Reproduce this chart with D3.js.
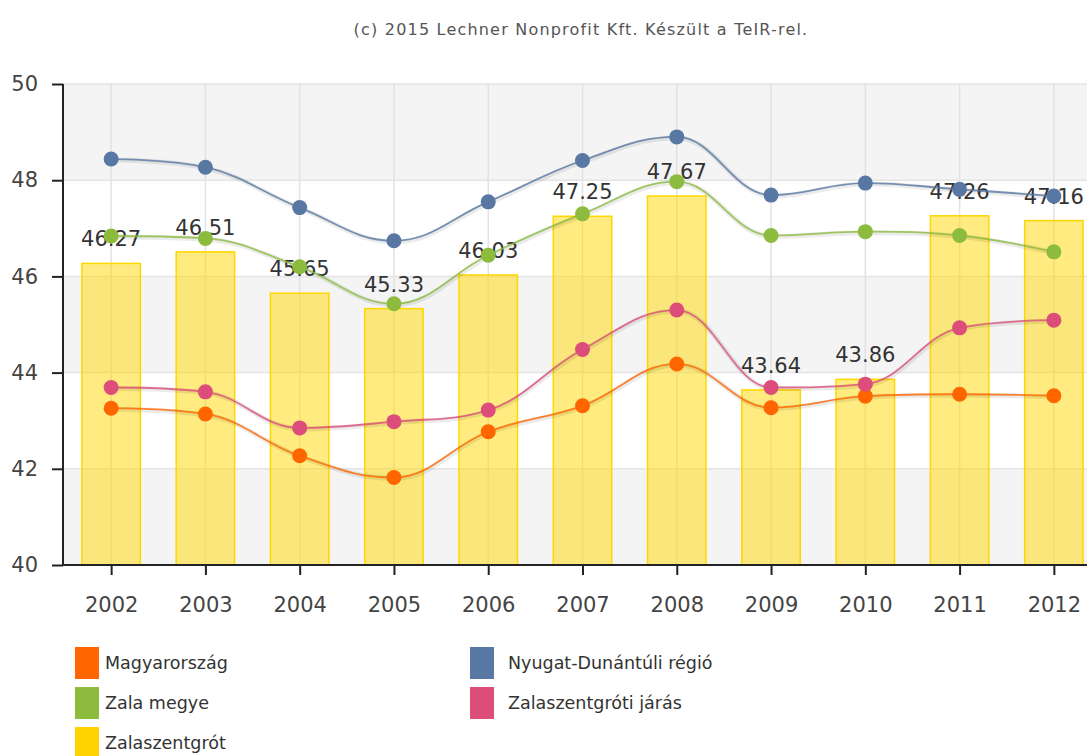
<!DOCTYPE html>
<html><head><meta charset="utf-8">
<script src="https://cdn.jsdelivr.net/npm/d3@7"></script>
<style>
body{margin:0;background:#fff;overflow:hidden}
text{font-family:"DejaVu Sans",Verdana,sans-serif}
</style>
</head><body>
<svg id="chart" width="1087" height="756"></svg>
<script>
const titleText = "(c) 2015 Lechner Nonprofit Kft. Készült a TeIR-rel.";
const years = ["2002","2003","2004","2005","2006","2007","2008","2009","2010","2011","2012"];
const magyarorszag        = [43.26, 43.14, 42.27, 41.82, 42.77, 43.31, 44.18, 43.27, 43.51, 43.55, 43.52];
const nyugatDunantuliRegio = [48.44, 48.27, 47.43, 46.74, 47.55, 48.41, 48.90, 47.69, 47.94, 47.81, 47.67];
const zalaMegye           = [46.84, 46.79, 46.20, 45.43, 46.44, 47.30, 47.97, 46.85, 46.93, 46.85, 46.51];
const zalaszentgrotiJaras = [43.69, 43.60, 42.85, 42.98, 43.22, 44.48, 45.30, 43.69, 43.76, 44.93, 45.09];
const zalaszentgrot       = [46.27, 46.51, 45.65, 45.33, 46.03, 47.25, 47.67, 43.64, 43.86, 47.26, 47.16];
const yTicks = [40, 42, 44, 46, 48, 50];
const yBands = [[40, 42], [44, 46], [48, 50]];

const lineSeries = [
  {name: "Magyarország", values: magyarorszag, color: "#ff6600"},
  {name: "Nyugat-Dunántúli régió", values: nyugatDunantuliRegio, color: "#5878a3"},
  {name: "Zala megye", values: zalaMegye, color: "#8cbb3e"},
  {name: "Zalaszentgróti járás", values: zalaszentgrotiJaras, color: "#dc4d79"}
];
const barSeries = {name: "Zalaszentgrót", values: zalaszentgrot, color: "#ffd200"};
const legendOrder = [lineSeries[0], lineSeries[1], lineSeries[2], lineSeries[3], barSeries];

const svg = d3.select("#chart");
const plotL = 63, plotR = 1087, plotT = 84, plotB = 565;

const x = d3.scalePoint().domain(years).range([64, 1101]).padding(0.5);
const step = x.step();
const barW = step * 0.62;
const y = d3.scaleLinear().domain([40, 50]).range([plotB, plotT]);

// title
svg.append("text").attr("x", 581).attr("y", 35).attr("text-anchor", "middle")
  .attr("font-size", 16).attr("letter-spacing", 1.2).attr("fill", "#555").text(titleText);

const plot = svg.append("g");
// plot bands
plot.selectAll("rect.band").data(yBands).join("rect").attr("class", "band")
  .attr("x", plotL).attr("width", plotR - plotL)
  .attr("y", d => y(d[1])).attr("height", d => y(d[0]) - y(d[1]))
  .attr("fill", "#f4f4f4");
// horizontal grid
plot.selectAll("line.hg").data(yTicks.slice(1)).join("line").attr("class", "hg")
  .attr("x1", plotL).attr("x2", plotR).attr("y1", d => y(d)).attr("y2", d => y(d))
  .attr("stroke", "#e4e4e4").attr("stroke-width", 1.5);
// vertical grid
plot.selectAll("line.vg").data(years).join("line").attr("class", "vg")
  .attr("x1", d => x(d)).attr("x2", d => x(d)).attr("y1", plotT).attr("y2", plotB)
  .attr("stroke", "#e2e2e2").attr("stroke-width", 1.5);

// bars
plot.selectAll("rect.bar").data(zalaszentgrot).join("rect").attr("class", "bar")
  .attr("x", (d, i) => x(years[i]) - barW / 2).attr("width", barW)
  .attr("y", d => y(d)).attr("height", d => y(40) - y(d))
  .attr("fill", "rgba(255,215,0,0.5)").attr("stroke", "#ffd700").attr("stroke-width", 1.5);

// bar labels
plot.selectAll("text.bl").data(zalaszentgrot).join("text").attr("class", "bl")
  .attr("x", (d, i) => x(years[i])).attr("y", d => y(d) - 17)
  .attr("text-anchor", "middle").attr("font-size", 21).attr("fill", "#333")
  .text(d => d.toFixed(2));

// Highcharts-like spline
function spline(pts) {
  const sm = 1.5, den = 2.5, n = pts.length;
  const lc = new Array(n), rc = new Array(n);
  for (let i = 1; i < n - 1; i++) {
    const [px, py] = pts[i], [lx, ly] = pts[i - 1], [nx, ny] = pts[i + 1];
    let lcx = (sm * px + lx) / den, lcy = (sm * py + ly) / den;
    let rcx = (sm * px + nx) / den, rcy = (sm * py + ny) / den;
    let corr = 0;
    if (rcx !== lcx) corr = ((rcy - lcy) * (rcx - px)) / (rcx - lcx) + py - rcy;
    lcy += corr; rcy += corr;
    if (lcy > ly && lcy > py) { lcy = Math.max(ly, py); rcy = 2 * py - lcy; }
    else if (lcy < ly && lcy < py) { lcy = Math.min(ly, py); rcy = 2 * py - lcy; }
    if (rcy > ny && rcy > py) { rcy = Math.max(ny, py); lcy = 2 * py - rcy; }
    else if (rcy < ny && rcy < py) { rcy = Math.min(ny, py); lcy = 2 * py - rcy; }
    lc[i] = [lcx, lcy]; rc[i] = [rcx, rcy];
  }
  const p = d3.path();
  p.moveTo(pts[0][0], pts[0][1]);
  for (let i = 1; i < n; i++) {
    const c1 = rc[i - 1] || pts[i - 1], c2 = lc[i] || pts[i];
    p.bezierCurveTo(c1[0], c1[1], c2[0], c2[1], pts[i][0], pts[i][1]);
  }
  return p.toString();
}

lineSeries.forEach(s => {
  const pts = s.values.map((v, i) => [x(years[i]), y(v)]);
  const d = spline(pts);
  plot.append("path").attr("d", d).attr("fill", "none")
    .attr("stroke", "rgba(0,0,0,0.08)").attr("stroke-width", 5).attr("transform", "translate(1,1)");
  plot.append("path").attr("d", d).attr("fill", "none")
    .attr("stroke", s.color).attr("stroke-opacity", 0.8).attr("stroke-width", 1.8);
});
lineSeries.forEach(s => {
  plot.selectAll(null).data(s.values).join("circle")
    .attr("cx", (d, i) => x(years[i])).attr("cy", d => y(d)).attr("r", 7.5)
    .attr("fill", s.color);
});

// axes
const yAxis = svg.append("g").attr("transform", `translate(${plotL},0)`)
  .call(d3.axisLeft(y).tickValues(yTicks).tickSize(11).tickPadding(14).tickFormat(d3.format("d")));
yAxis.select(".domain").attr("stroke", "#222").attr("stroke-width", 2).attr("d", `M0,${plotT}V${plotB}`);
yAxis.selectAll(".tick line").attr("stroke", "#222").attr("stroke-width", 2);
yAxis.selectAll(".tick text").attr("font-size", 21).attr("fill", "#444")
  .attr("font-family", '"DejaVu Sans",Verdana,sans-serif');

const xAxis = svg.append("g").attr("transform", `translate(0,${plotB})`)
  .call(d3.axisBottom(x).tickSize(10).tickPadding(22));
xAxis.select(".domain").attr("stroke", "#222").attr("stroke-width", 2).attr("d", `M${plotL},0H${plotR}`);
xAxis.selectAll(".tick line").attr("stroke", "#222").attr("stroke-width", 2);
xAxis.selectAll(".tick text").attr("font-size", 21).attr("fill", "#444")
  .attr("font-family", '"DejaVu Sans",Verdana,sans-serif');

// legend
const leg = svg.append("g");
legendOrder.forEach((s, i) => {
  const col = i % 2, row = Math.floor(i / 2);
  const lx = col === 0 ? 75 : 470, ly = 647 + row * 40;
  leg.append("rect").attr("x", lx).attr("y", ly).attr("width", 24).attr("height", 32).attr("fill", s.color);
  leg.append("text").attr("x", col === 0 ? 105 : 508).attr("y", ly + 22).attr("font-size", 17.5).attr("fill", "#333").text(s.name);
});
</script>
</body></html>
